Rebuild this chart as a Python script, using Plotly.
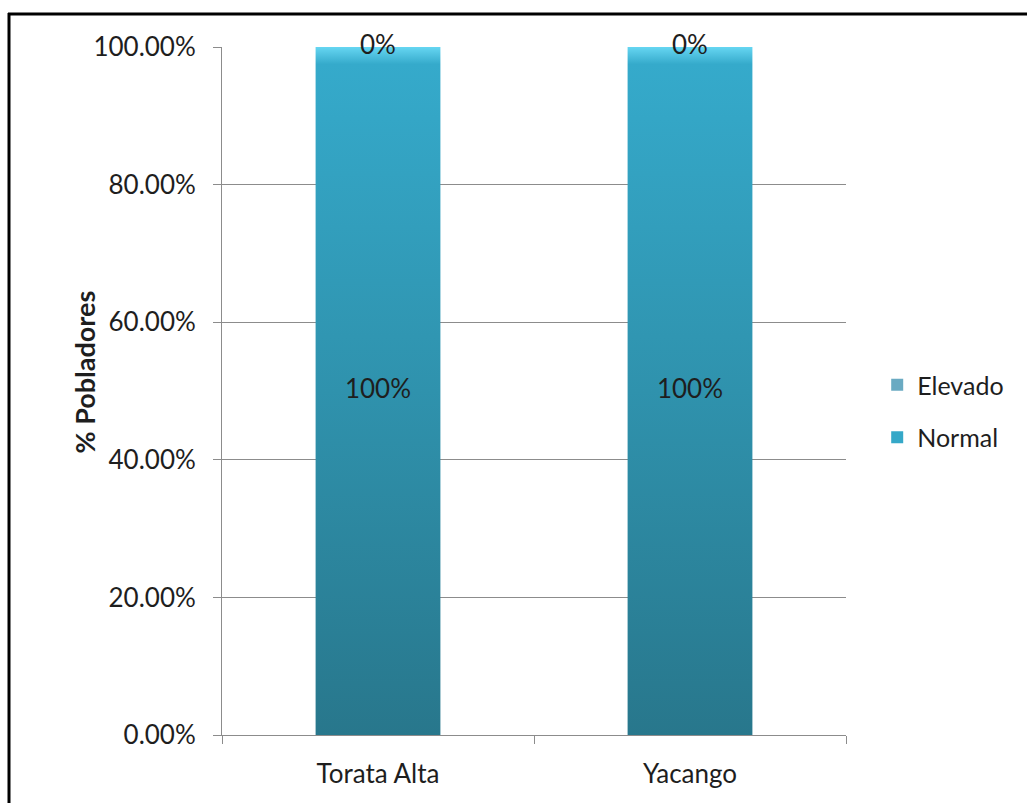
import plotly.graph_objects as go

# Data
localidades = ["Torata Alta", "Yacango"]
normal = [100, 100]
elevado = [0, 0]
y_ticks = [0, 20, 40, 60, 80, 100]
y_ticktext = ["0.00%", "20.00%", "40.00%", "60.00%", "80.00%", "100.00%"]

FONT = "Lato"
TXT = "#1e1e1e"
W, H = 1027, 803
L, R, T, B = 222, 181, 47, 68
pw, ph = W - L - R, H - T - B
HALF = 0.2  # half bar width in category units (bargap 0.6)

px2x = lambda p: (p - L) / pw
px2y = lambda p: (H - B - p) / ph

fig = go.Figure()
# Stacked bars (legend + base colour)
fig.add_trace(go.Bar(
    name="Normal", x=localidades, y=normal, legendrank=2, legendgroup="n",
    marker=dict(color="#35a8c8", line=dict(width=0)),
))
fig.add_trace(go.Bar(
    name="Elevado", x=localidades, y=elevado, legendrank=1, legendgroup="e",
    marker=dict(color="#6aaac2", line=dict(width=0)),
))

# Vertical gradient shading on top of each Normal bar
for i, v in enumerate(normal):
    fig.add_trace(go.Scatter(
        x=[i - HALF, i + HALF, i + HALF, i - HALF, i - HALF],
        y=[0, 0, v, v, 0],
        xaxis="x2", mode="lines", fill="toself", line=dict(width=0),
        fillgradient=dict(type="vertical", colorscale=[
            [0.0, "#28778c"], [0.5, "#2f92ad"], [0.975, "#35aacb"], [1.0, "#66d6f2"]]),
        showlegend=False, hoverinfo="skip",
    ))

# Value labels
fig.add_trace(go.Scatter(
    x=list(range(len(localidades))), y=[v / 2 for v in normal], xaxis="x2",
    mode="text", text=[f"{v}%" for v in normal], textposition="middle center",
    textfont=dict(family=FONT, size=26, color=TXT), showlegend=False, hoverinfo="skip",
))
fig.add_trace(go.Scatter(
    x=list(range(len(localidades))), y=[n + e for n, e in zip(normal, elevado)], xaxis="x2",
    mode="text", text=[f"{v}%" for v in elevado], textposition="middle center",
    textfont=dict(family=FONT, size=26, color=TXT), showlegend=False, hoverinfo="skip",
    cliponaxis=False,
))

# Y axis title
fig.add_annotation(
    text="<b>% Pobladores</b>", xref="paper", yref="paper",
    x=px2x(66), y=px2y(372), textangle=-90, showarrow=False,
    font=dict(family=FONT, size=27, color=TXT),
)

# Frame around the chart (left and top edges visible)
fig.add_shape(type="line", xref="paper", yref="paper",
              x0=px2x(9), x1=px2x(9), y0=px2y(13), y1=px2y(H + 20),
              line=dict(color="black", width=3))
fig.add_shape(type="line", xref="paper", yref="paper",
              x0=px2x(8), x1=px2x(W + 20), y0=px2y(14), y1=px2y(14),
              line=dict(color="black", width=3))

fig.update_layout(
    width=W, height=H,
    margin=dict(l=L, r=R, t=T, b=B),
    barmode="stack", bargap=0.6,
    plot_bgcolor="white", paper_bgcolor="white",
    font=dict(family=FONT, size=26, color=TXT),
    showlegend=True,
    legend=dict(x=1.05, y=px2y(411), yanchor="middle", xanchor="left",
                traceorder="grouped", font=dict(family=FONT, size=25, color=TXT),
                itemwidth=30, tracegroupgap=17),
    xaxis=dict(type="category", showline=True, linecolor="#8c8c8c",
               ticks="outside", tickson="boundaries", ticklen=8,
               tickcolor="#8c8c8c", showgrid=False, range=[-0.5, 1.5],
               ticklabelstandoff=16,
               tickfont=dict(family=FONT, size=26, color=TXT)),
    xaxis2=dict(overlaying="x", range=[-0.5, 1.5], visible=False, fixedrange=True),
)
fig.update_yaxes(
    range=[0, 100], tickvals=y_ticks, ticktext=y_ticktext,
    showgrid=True, gridcolor="#8c8c8c", gridwidth=1,
    showline=True, linecolor="#8c8c8c", ticks="outside", ticklen=8,
    tickcolor="#8c8c8c", tickfont=dict(family=FONT, size=26, color=TXT),
    ticklabelstandoff=12, zeroline=False,
)

fig.write_html("out.html")
